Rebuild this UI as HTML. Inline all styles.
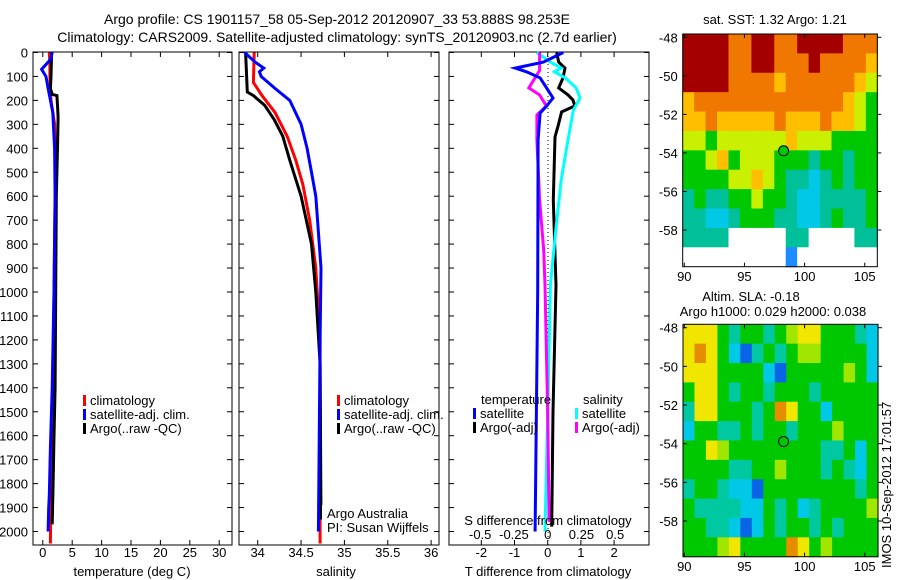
<!DOCTYPE html>
<html><head><meta charset="utf-8"><style>
html,body{margin:0;padding:0;background:#fff;}
svg{display:block;font-family:"Liberation Sans",sans-serif;}
text{font-size:13px;fill:#000;}
</style></head><body>
<svg id="fig" width="900" height="580" viewBox="0 0 900 580" xmlns="http://www.w3.org/2000/svg">
<text x="337" y="24" text-anchor="middle" style="font-size:14px">Argo profile: CS 1901157_58 05-Sep-2012 20120907_33 53.888S 98.253E</text>
<text x="337" y="42" text-anchor="middle" style="font-size:14px">Climatology: CARS2009. Satellite-adjusted climatology: synTS_20120903.nc (2.7d earlier)</text>
<g id="g"></g>
</svg>
<script>
// ---- data ----
const depthTicks=[0,100,200,300,400,500,600,700,800,900,1000,1100,1200,1300,1400,1500,1600,1700,1800,1900,2000];
const tTicks=[0,5,10,15,20,25,30];
const sTicks=[34,34.5,35,35.5,36];
const dTTicks=[-2,-1,0,1,2];
const dSTicks=[-0.5,-0.25,0,0.25,0.5];
const lonTicks=[90,95,100,105];
const latTicks=[48,50,52,54,56,58];

const tClimDepth=[0,50,100,150,200,250,300,400,600,1000,1400,1800,2050];
const tClim=[1.1,1.2,1.2,1.3,1.4,1.7,2.0,2.1,2.1,1.9,1.7,1.4,1.3];
const tSatDepth=[0,30,70,100,150,250,400,600,1000,1400,1650,1850,1900,2000];
const tSat=[1.6,1.3,-0.2,0.55,0.9,1.7,2.0,2.1,1.9,1.6,1.3,1.1,1.0,0.9];
const tArgoDepth=[0,100,150,175,180,220,270,400,600,1000,1400,1600,1800,1970];
const tArgo=[1.5,1.4,1.3,1.6,2.4,2.5,2.6,2.5,2.3,2.2,2.1,1.9,1.75,1.6];

const sClimDepth=[0,125,180,250,350,450,550,700,900,1200,2050];
const sClim=[33.96,33.95,34.05,34.2,34.34,34.44,34.52,34.6,34.67,34.72,34.72];
const sSatDepth=[0,40,65,80,100,150,200,300,400,500,600,900,1200,2000];
const sSat=[33.85,33.97,34.07,34.02,34.04,34.2,34.37,34.5,34.57,34.62,34.67,34.73,34.72,34.7];
const sArgoDepth=[0,165,180,220,280,350,450,600,800,1000,1300,1950];
const sArgo=[33.86,33.88,33.95,34.08,34.19,34.29,34.37,34.5,34.62,34.67,34.72,34.73];

const dTSatDepth=[0,40,65,81,106,144,190,223,253,365,1000,2000];
const dTSat=[0.47,-0.13,-0.98,-0.63,-0.23,-0.05,0.16,-0.03,-0.23,-0.29,-0.3,-0.38];
const dTArgoDepth=[0,40,65,106,148,177,198,223,248,303,353,616,971,1500,1980];
const dTArgo=[0.27,0.33,0.52,0.46,0.33,0.61,0.76,0.82,0.42,0.32,0.22,0.17,0.25,0.16,0.12];
const dSSatDepth=[0,40,65,81,106,148,190,240,365,532,741,971,1500,2000];
const dSSat=[-0.08,0.02,0.1,0.05,0.13,0.21,0.24,0.19,0.15,0.1,0.06,0.02,0.0,-0.02];
const dSArgoDepth=[0,75,148,177,223,261,365,616,825,971,1500,1960];
const dSArgo=[-0.06,-0.06,-0.14,-0.06,-0.01,-0.08,-0.08,-0.06,-0.03,-0.02,0.0,0.01];

const sstGrid=[
"RRRROORROORRRROOO","RRRROORROOOROOOOY","RRRROOOOYOOOOOOYL","YOOOOOOOOOOOOOYLG",
"YYOYYYYYOYYYOYYLG","LLGLLLLLLYLLLGGGG","GGLYGLLLGGGTGGTGG","GGGGLLYLGTTCTGTGG",
"TGTTGGLGGTCCTTTTG","TTCCTGGGTTCCTGTTG","TTTTNNNNNTTNNNNTT","NNNNNNNNNBNNNNNNN"];
const slaGrid=[
"YYYGTGGTGLYYGGGTC","YOYGCBTGTGLLGGGGC","YYYGGGGCBGGGGGLGC","GYYGTGGTGGGTGGGGG",
"TYYGGGTGOYGGCGGGG","CGGTTGTGGTGGGLGGG","GGYLGGGGGGGGTTGCG","GGGGTTGGLGGGTGTCG",
"TGGTCCBGGGGGGGGTG","GTTTTCCGTGCTGGGGL","GGTTCBCGTGGTGTGGG","GGGLYGGGGOYGLGGGG"];
const sstColors={R:"#a50000",O:"#f07800",Y:"#ffbe00",L:"#c8f000",G:"#00c800",T:"#00c09a",C:"#00c8e6",B:"#1e8cff",N:"#ffffff"};
const slaColors={R:"#c83200",O:"#e68c00",Y:"#f0e600",L:"#a0e600",G:"#00c800",T:"#00c8a0",C:"#00c8e6",B:"#0a64e6",N:"#ffffff"};
const argoLon=98.253, argoLat=53.888;

// ---- drawing ----
const NS="http://www.w3.org/2000/svg";
const G=document.getElementById('g');
function mk(tag,attrs,parent){const e=document.createElementNS(NS,tag);for(const k in attrs)e.setAttribute(k,attrs[k]);(parent||G).appendChild(e);return e;}
function txt(x,y,s,anchor,parent){const t=mk('text',{x:x,y:y,'text-anchor':anchor||'start'},parent);t.textContent=s;return t;}
const yD=d=>52.5+d*0.2395;
const PB=545;

function panel(name,x0,x1,fx,ticks,tickFmt,labelY){
  const g=mk('g',{});
  
  
  mk('rect',{x:x0,y:52,width:x1-x0,height:PB-52,fill:'none',stroke:'#000','stroke-width':1},g);
  ticks.forEach(v=>{const x=fx(v);
    mk('line',{x1:x,x2:x,y1:PB,y2:PB-5,stroke:'#000'},g);
    mk('line',{x1:x,x2:x,y1:52,y2:57,stroke:'#000'},g);
    if(labelY){const t=txt(x,labelY,tickFmt(v),'middle',g);}
  });
  depthTicks.forEach(d=>{const y=yD(d);
    mk('line',{x1:x0,x2:x0+5,y1:y,y2:y,stroke:'#000'},g);
    mk('line',{x1:x1,x2:x1-5,y1:y,y2:y,stroke:'#000'},g);});
  return g;
}
function line(name,xs,ds,fx,color,parent){
  const pts=xs.map((v,i)=>fx(v).toFixed(1)+','+yD(ds[i]).toFixed(1)).join(' ');
  const p=mk('polyline',{points:pts,fill:'none',stroke:color,'stroke-width':3,'stroke-linejoin':'miter'},parent);
  
  
}
function legend(x,y,items,parent){
  items.forEach((it,i)=>{
    mk('rect',{x:x,y:y+i*14-5,width:3,height:11,fill:it[1]},parent);
    txt(x+7,y+i*14+5,it[0],'start',parent);
  });
}

// panel 1
const fT=v=>42.8+5.88*v;
const p1=panel('temperature-panel',33,232,fT,tTicks,v=>String(v),557);
depthTicks.forEach(d=>{const t=txt(28,yD(d)+5,String(d),'end',p1);});
line('temp-climatology-line',tClim,tClimDepth,fT,'#ff0000',p1);
line('temp-argo-line',tArgo,tArgoDepth,fT,'#000000',p1);
line('temp-satellite-line',tSat,tSatDepth,fT,'#0000ff',p1);
txt(132,576,'temperature (deg C)','middle',p1);
const l1=mk('g',{});
legend(83,400,[['climatology','#ff0000'],['satellite-adj. clim.','#0000ff'],['Argo(..raw -QC)','#000000']],l1);

// panel 2
const fS=v=>257.7+86.7*(v-34);
const p2=panel('salinity-panel',239,439,fS,sTicks,v=>String(v),557);
line('sal-climatology-line',sClim,sClimDepth,fS,'#ff0000',p2);
line('sal-argo-line',sArgo,sArgoDepth,fS,'#000000',p2);
line('sal-satellite-line',sSat,sSatDepth,fS,'#0000ff',p2);
txt(336,576,'salinity','middle',p2);
const l2=mk('g',{});
mk('rect',{x:322,y:505,width:112,height:30,fill:'#fff'},l2);
legend(337,400,[['climatology','#ff0000'],['satellite-adj. clim.','#0000ff'],['Argo(..raw -QC)','#000000']],l2);
txt(327,518,'Argo Australia','start',l2);
txt(327,532,'PI: Susan Wijffels','start',l2);

// panel 3
const fDT=v=>547.7+33.2*v;
const fDS=v=>547.7+135*v;
const p3=panel('difference-panel',449,649,fDT,dTTicks,v=>String(v),557);
mk('line',{x1:548,x2:548,y1:52,y2:PB,stroke:'#000','stroke-dasharray':'1,3'},p3);
line('dT-argo-line',dTArgo,dTArgoDepth,fDT,'#000000',p3);
line('dS-satellite-line',dSSat,dSSatDepth,fDS,'#00ffff',p3);
line('dS-argo-line',dSArgo,dSArgoDepth,fDS,'#ff00ff',p3);
line('dT-satellite-line',dTSat,dTSatDepth,fDT,'#0000ff',p3);
dSTicks.forEach(v=>{const t=txt(fDS(v),539,(v===0?'0':String(v)),'middle',p3);});
txt(548,525,'S difference from climatology','middle',p3);
txt(548,576,'T difference from climatology','middle',p3);
const l3=mk('g',{});
txt(481,404,'temperature','start',l3);
txt(583,404,'salinity','start',l3);
legend(473,413,[['satellite','#0000ff'],['Argo(-adj)','#000000']],l3);
legend(575,413,[['satellite','#00ffff'],['Argo(-adj)','#ff00ff']],l3);
for(let y=37;y<530;y+=38.8){mk('line',{x1:653,x2:658,y1:y,y2:y,stroke:'#000'});}

// maps
function map(name,grid,colors,x0,y0,x1,y1,lat48y,lat58y,labelY){
  const g=mk('g',{});
  
  
  const fx=lon=>684.3+12.03*(lon-90);
  const fy=lat=>lat48y+(lat58y-lat48y)/10*(lat-48);
  const cw=(x1-x0)/grid[0].length, ch=(y1-y0)/grid.length;
  grid.forEach((row,r)=>{[...row].forEach((c,k)=>{
    const cell=mk('rect',{x:x0+k*cw,y:y0+r*ch,width:cw+0.6,height:ch+0.6,fill:colors[c]},g);
    
    
  });});
  mk('rect',{x:x0,y:y0,width:x1-x0,height:y1-y0,fill:'none',stroke:'#000'},g);
  lonTicks.forEach(v=>{const x=fx(v);mk('line',{x1:x,x2:x,y1:y1,y2:y1-4,stroke:'#000'},g);mk('line',{x1:x,x2:x,y1:y0,y2:y0+4,stroke:'#000'},g);
    const t=txt(x,labelY,String(v),'middle',g);});
  latTicks.forEach(v=>{const y=fy(v);mk('line',{x1:x0,x2:x0+4,y1:y,y2:y,stroke:'#000'},g);mk('line',{x1:x1,x2:x1+4,y1:y,y2:y,stroke:'#000'},g);
    const t=txt(x0-5,y+5,'-'+v,'end',g);});
  const m=mk('circle',{cx:fx(argoLon),cy:fy(argoLat),r:5,fill:'#00c800',stroke:'#000','stroke-width':1},g);
  
  
}
mk('rect',{x:650,y:0,width:250,height:580,fill:'#fff'});
map('sst-map',sstGrid,sstColors,682.7,34,877.3,266.7,37.3,230,281);
map('sla-map',slaGrid,slaColors,683,324.3,878,556.7,327.7,521,571);
txt(775,24,'sat. SST: 1.32 Argo: 1.21','middle');
txt(751,301,'Altim. SLA: -0.18','middle');
txt(773,316,'Argo h1000: 0.029 h2000: 0.038','middle');
const im=txt(0,0,'IMOS 10-Sep-2012 17:01:57','start');
im.setAttribute('transform','translate(891,568) rotate(-90)');


</script>
</body></html>
